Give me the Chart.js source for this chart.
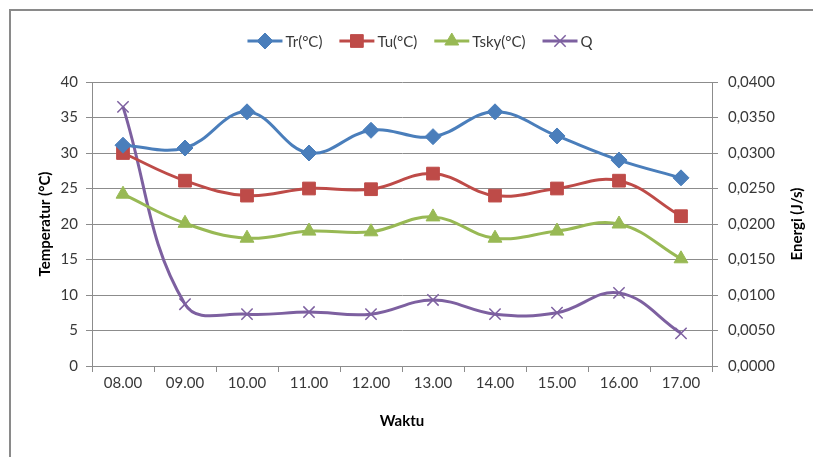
<!DOCTYPE html>
<html>
<head>
<meta charset="utf-8">
<script src="https://cdn.jsdelivr.net/npm/chart.js@4.4.1/dist/chart.umd.min.js"></script>
<style>
  html, body { margin: 0; padding: 0; background: #fff; }
  #wrap { position: relative; width: 813px; height: 457px; overflow: hidden; }
  #frame { position: absolute; left: 9px; top: 9px; width: 820px; height: 460px;
           border-top: 2px solid #8a8a8a; border-left: 2px solid #8a8a8a; pointer-events: none; }
</style>
</head>
<body>
<div id="wrap">
  <canvas id="chart" width="813" height="457"></canvas>
  <div id="frame"></div>
</div>
<script>
const waktu = ['08.00', '09.00', '10.00', '11.00', '12.00', '13.00', '14.00', '15.00', '16.00', '17.00'];
const tr   = [31.1, 30.7, 35.8, 30.0, 33.2, 32.3, 35.8, 32.4, 29.0, 26.5];
const tu   = [30.0, 26.1, 24.0, 25.0, 24.9, 27.1, 24.0, 25.0, 26.1, 21.1];
const tsky = [24.2, 20.1, 18.0, 19.0, 18.9, 21.0, 18.0, 19.0, 20.0, 15.1];
const q    = [0.0365, 0.0087, 0.0073, 0.0076, 0.0073, 0.0093, 0.0073, 0.0075, 0.0103, 0.0046];

const FONT = '"Liberation Sans Narrow", Lato, "Liberation Sans", sans-serif';
const GRID = '#8c8c8c';
const TEXT = '#383838';

// legend drawn Excel style: short line with the marker on top
const excelLegend = {
    id: 'excelLegend',
    afterDraw(chart) {
        const ctx = chart.ctx;
        const sets = chart.data.datasets;
        ctx.save();
        ctx.font = '15px ' + FONT;
        ctx.textBaseline = 'middle';
        const lineLen = 35, gap = 3, itemGap = 17;
        const widths = sets.map(d => lineLen + gap + ctx.measureText(d.label).width);
        const total = widths.reduce((a, b) => a + b, 0) + itemGap * (sets.length - 1);
        let x = 420 - total / 2;
        const y = 41;
        sets.forEach((d, i) => {
            ctx.strokeStyle = d.borderColor;
            ctx.lineWidth = 3;
            ctx.beginPath();
            ctx.moveTo(x, y);
            ctx.lineTo(x + lineLen, y);
            ctx.stroke();
            ctx.fillStyle = d.pointBackgroundColor;
            ctx.strokeStyle = d.pointBorderColor;
            ctx.lineWidth = d.pointBorderWidth;
            Chart.helpers.drawPoint(ctx, {
                pointStyle: d.pointStyle,
                radius: d.pointRadius,
                borderWidth: d.pointBorderWidth,
                rotation: 0
            }, x + lineLen / 2, y);
            ctx.fillStyle = TEXT;
            ctx.fillText(d.label, x + lineLen + gap, y + 1);
            x += widths[i] + itemGap;
        });

        // right axis title, read bottom to top like the left one
        const a = chart.chartArea;
        ctx.font = 'bold 15px ' + FONT;
        ctx.textAlign = 'center';
        ctx.translate(797, (a.top + a.bottom) / 2);
        ctx.rotate(-Math.PI / 2);
        ctx.fillStyle = '#000';
        ctx.fillText('Energi (J/s)', 0, 0);
        ctx.restore();
    }
};

function serie(label, data, color, style, radius, axis, bw) {
    return {
        label: label,
        data: data,
        yAxisID: axis,
        borderColor: color,
        backgroundColor: color,
        borderWidth: 3,
        pointStyle: style,
        pointRadius: radius,
        pointHoverRadius: radius,
        pointBackgroundColor: color,
        pointBorderColor: color,
        pointBorderWidth: bw,
        tension: 0.4,
        fill: false
    };
}

new Chart(document.getElementById('chart').getContext('2d'), {
    type: 'line',
    data: {
        labels: waktu,
        datasets: [
            serie('Tr(°C)', tr, '#4a7ebb', 'rectRot', 8, 'y', 1),
            serie('Tu(°C)', tu, '#be4b48', 'rect', 9, 'y', 1),
            serie('Tsky(°C)', tsky, '#98b954', 'triangle', 8, 'y', 1),
            serie('Q', q, '#7d60a0', 'crossRot', 8, 'y1', 1.5)
        ]
    },
    plugins: [excelLegend],
    options: {
        responsive: false,
        animation: false,
        layout: { padding: { top: 82, left: 0, right: 0, bottom: 0 } },
        plugins: {
            legend: { display: false },
            tooltip: { enabled: false }
        },
        scales: {
            x: {
                offset: true,
                afterFit: s => { s.height = 91; },
                grid: { offset: true, drawOnChartArea: false, color: GRID, tickLength: 6 },
                border: { color: GRID },
                ticks: { color: TEXT, font: { family: FONT, size: 15 }, padding: 2, maxRotation: 0 },
                title: { display: true, text: 'Waktu', color: '#000',
                         font: { family: FONT, size: 15, weight: 'bold' }, padding: { top: 0, bottom: 27 } }
            },
            y: {
                position: 'left',
                min: 0, max: 40,
                afterFit: s => { s.width = 92; },
                grid: { color: GRID, tickLength: 6 },
                border: { color: GRID },
                ticks: { stepSize: 5, color: TEXT, font: { family: FONT, size: 15 }, padding: 8 },
                title: { display: true, text: 'Temperatur (°C)', color: '#000',
                         font: { family: FONT, size: 15, weight: 'bold' }, padding: { top: 36, bottom: 0 } }
            },
            y1: {
                position: 'right',
                min: 0, max: 0.04,
                afterFit: s => { s.width = 101; },
                grid: { drawOnChartArea: false, color: GRID, tickLength: 6 },
                border: { color: GRID },
                ticks: {
                    stepSize: 0.005, color: TEXT, font: { family: FONT, size: 15 }, padding: 10,
                    callback: v => v.toFixed(4).replace('.', ',')
                }
            }
        }
    }
});
</script>
</body>
</html>
